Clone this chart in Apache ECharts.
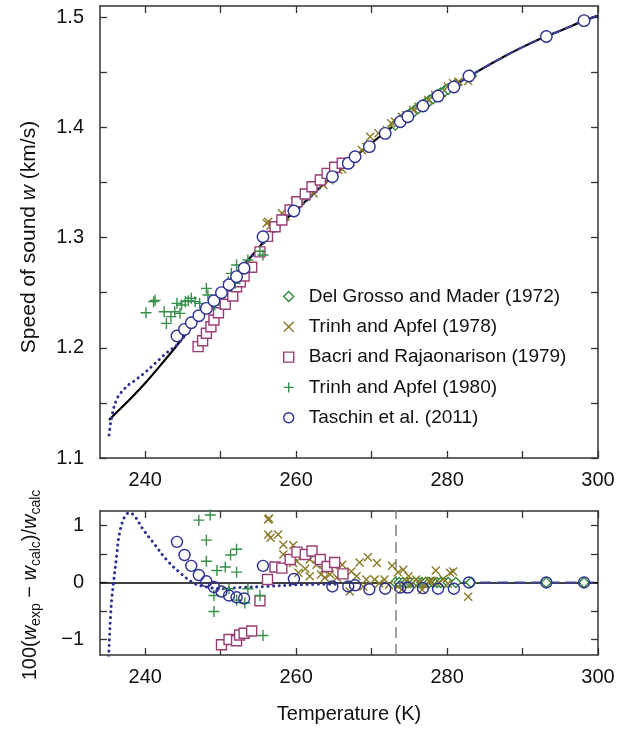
<!DOCTYPE html>
<html><head><meta charset="utf-8">
<script src="https://cdn.jsdelivr.net/npm/echarts@6/dist/echarts.min.js"></script>
<style>html,body{margin:0;padding:0;background:#fff}#c{width:639px;height:730px}</style>
</head><body><div id="c"></div>
<script>
const FONT = '"Liberation Sans", Arial, Helvetica, sans-serif';

// ---------- calculated speed of sound (solid black) ----------
const curveT = [235.2, 236, 238, 240, 242, 244, 246, 248, 250, 252, 254, 256, 258, 260, 262, 264, 266, 268, 270, 272, 273.15, 276, 278, 280, 282, 284, 286, 288, 290, 292, 294, 296, 298, 300];
const curveW = [1.1345, 1.1400, 1.1535, 1.1680, 1.1840, 1.2005, 1.2183, 1.2347, 1.2512, 1.2670, 1.2826, 1.2985, 1.3128, 1.3250, 1.3380, 1.3505, 1.3628, 1.3745, 1.3858, 1.3966, 1.4024, 1.4163, 1.4256, 1.4336, 1.4423, 1.4505, 1.4583, 1.4658, 1.4727, 1.4791, 1.4848, 1.4905, 1.4963, 1.5013];

// ---------- dotted model (low T) ----------
const dotT = [235.2, 235.4, 235.7, 236.0, 236.5, 237.1, 237.7, 238.4, 239.5, 240.6, 241.8, 243.0, 244.2, 246.4, 248.0, 250.0, 252.5, 256.0, 260.0, 265.0];
const dotW = [1.1209, 1.1315, 1.1420, 1.1496, 1.1570, 1.1617, 1.1660, 1.1692, 1.1750, 1.1814, 1.1890, 1.1964, 1.2025, 1.2210, 1.2337, 1.2498, 1.2697, 1.2976, 1.3245, 1.3570];
const dotResT = [235.15, 235.25, 235.4, 235.55, 235.8, 236.2, 236.6, 237.3, 237.9, 238.6, 239.7, 241.1, 242.8, 244.6, 246.4, 248.1, 249.9, 252.5, 256.1, 260.5, 265.3];
const dotResR = [-1.30, -1.00, -0.60, -0.30, 0.00, 0.46, 0.87, 1.16, 1.22, 1.16, 0.93, 0.69, 0.40, 0.17, -0.01, -0.08, -0.11, -0.09, -0.07, -0.04, -0.03];

// ---------- dashed model (T > 273.15) residual ----------
const dashResT = [273.15, 300];
const dashResR = [0, 0];

// ---------- Del Grosso and Mader (1972) ----------
const dgT = [273.15, 273.65, 274.15, 274.65, 275.15, 275.65, 276.15, 276.65, 277.15, 277.65, 278.15, 278.65, 279.15, 279.65, 280.15, 281.15, 283.15, 293.15, 298.15];
const dgW = [1.4024, 1.4050, 1.4075, 1.4100, 1.4124, 1.4148, 1.4172, 1.4195, 1.4218, 1.4240, 1.4263, 1.4285, 1.4306, 1.4327, 1.4348, 1.4389, 1.4467, 1.4823, 1.4967];
const dgR = [0, 0, 0, 0, 0, 0, 0, 0, 0, 0, 0, 0, 0, 0, 0, 0, 0, 0, 0];

// ---------- Trinh and Apfel (1978) ----------
const t78T = [256.1, 256.3, 256.6, 258.1, 258.6, 259.8, 260.5, 261.3, 262.3, 263.6, 264.4, 265.6, 266.1, 267.2, 268.7, 269.3, 269.8, 270.9, 272.0, 272.6, 273.1, 274.0, 274.6, 275.5, 276.2, 277.0, 277.5, 278.4, 279.3, 280.1, 280.8, 281.5, 282.8];
const t78W = [1.3129, 1.3144, 1.3110, 1.3220, 1.3190, 1.3325, 1.3340, 1.3370, 1.3401, 1.3476, 1.3520, 1.3612, 1.3619, 1.3680, 1.3794, 1.3824, 1.3914, 1.3945, 1.3975, 1.4036, 1.4050, 1.4096, 1.4110, 1.4156, 1.4187, 1.4205, 1.4247, 1.4293, 1.4312, 1.4370, 1.4400, 1.4413, 1.4420];
const t78ResT = [256.3, 256.4, 256.3, 256.6, 257.6, 258.3, 259.6, 258.3, 259.6, 260.1, 260.3, 261.2, 261.8, 261.8, 262.7, 263.3, 263.6, 263.8, 264.5, 264.9, 265.4, 266.1, 266.1, 267.3, 267.1, 268.0, 268.4, 268.9, 269.5, 269.3, 270.4, 270.7, 271.0, 271.7, 272.3, 272.7, 273.5, 274.2, 273.5, 274.0, 274.6, 274.9, 275.3, 275.9, 276.3, 276.7, 277.1, 277.6, 277.9, 278.5, 278.9, 279.5, 280.1, 280.4, 280.8, 282.8];
const t78ResR = [1.10, 1.12, 0.84, 0.78, 0.84, 0.66, 0.65, 0.49, 0.34, 0.37, 0.17, 0.24, 0.40, 0.11, 0.31, 0.14, 0.22, 0.08, 0.14, 0.31, 0.08, 0.31, 0.14, 0.19, -0.16, 0.11, 0.35, -0.07, 0.44, 0.05, 0.05, 0.34, -0.02, 0.05, -0.04, 0.29, 0.18, 0.22, -0.07, -0.13, 0.02, 0.11, -0.03, 0.05, 0.00, -0.13, -0.05, 0.02, 0.03, 0.21, 0.00, 0.06, -0.02, 0.17, 0.19, -0.25];

// ---------- Bacri and Rajaonarison (1979) ----------
const brT = [247.0, 247.6, 248.1, 248.7, 249.1, 249.7, 250.6, 251.6, 252.1, 252.6, 253.1, 254.1, 255.2, 256.2, 257.2, 258.1, 259.2, 260.1, 261.2, 262.1, 263.2, 264.1, 265.1, 266.1];
const brW = [1.2010, 1.2064, 1.2131, 1.2191, 1.2252, 1.2318, 1.2394, 1.2470, 1.2554, 1.2599, 1.2651, 1.2730, 1.2870, 1.3010, 1.3098, 1.3159, 1.3249, 1.3325, 1.3395, 1.3461, 1.3522, 1.3582, 1.3637, 1.3673];
const brResT = [250.1, 251.1, 252.1, 252.5, 253.1, 254.1, 255.2, 256.2, 257.2, 258.1, 259.2, 260.1, 261.2, 262.1, 263.2, 264.1, 265.1, 266.2];
const brResR = [-1.09, -1.00, -1.02, -0.92, -0.89, -0.85, -0.32, 0.05, 0.27, 0.25, 0.40, 0.53, 0.49, 0.55, 0.40, 0.28, 0.35, 0.15];

// ---------- Trinh and Apfel (1980) ----------
const t80T = [240.1, 241.1, 241.3, 242.5, 242.8, 243.4, 243.9, 244.2, 244.6, 244.8, 245.3, 245.7, 246.1, 246.6, 247.2, 248.1, 248.3, 249.2, 249.4, 250.8, 251.0, 251.4, 251.9, 252.1, 253.6, 255.2, 255.6];
const t80W = [1.2318, 1.2418, 1.2430, 1.2327, 1.2221, 1.2282, 1.2327, 1.2403, 1.2312, 1.2388, 1.2418, 1.2427, 1.2449, 1.2418, 1.2403, 1.2539, 1.2478, 1.2388, 1.2463, 1.2524, 1.2599, 1.2675, 1.2585, 1.2750, 1.2796, 1.2875, 1.2841];
const t80ResT = [247.1, 248.6, 248.1, 248.1, 249.5, 250.6, 251.3, 252.1, 252.1, 249.1, 249.1, 251.1, 252.1, 253.2, 253.6, 255.2, 255.6];
const t80ResR = [1.09, 1.18, 0.74, 0.37, 0.21, 0.27, 0.48, 0.58, 0.18, -0.23, -0.51, -0.11, -0.31, -0.36, -0.11, -0.23, -0.93];

// ---------- Taschin et al. (2011) ----------
const taT = [244.2, 245.2, 246.1, 247.1, 248.1, 249.1, 250.1, 251.1, 252.1, 253.1, 255.6, 259.7, 264.8, 266.9, 267.8, 269.7, 271.8, 273.8, 274.8, 276.8, 278.8, 280.9, 282.9, 293.15, 298.15];
const taW = [1.2107, 1.2167, 1.2227, 1.2291, 1.2357, 1.2427, 1.2500, 1.2572, 1.2645, 1.2721, 1.3007, 1.3240, 1.3552, 1.3673, 1.3733, 1.3824, 1.3945, 1.4050, 1.4096, 1.4193, 1.4283, 1.4365, 1.4465, 1.4823, 1.4967];
const taR = [0.71, 0.48, 0.29, 0.13, 0.02, -0.08, -0.16, -0.23, -0.26, -0.28, 0.29, 0.06, -0.07, -0.07, -0.05, -0.12, -0.11, -0.09, -0.09, -0.10, -0.11, -0.11, 0.00, 0.00, 0.00];

// ---------- axes ----------
const xTicks = [240, 250, 260, 270, 280, 290, 300];
const xLabels = [240, 260, 280, 300];
const yTopTicks = [1.1, 1.15, 1.2, 1.25, 1.3, 1.35, 1.4, 1.45, 1.5];
const yTopLabels = [1.1, 1.2, 1.3, 1.4, 1.5];
const yBotTicks = [-1, -0.5, 0, 0.5, 1];
const yBotLabels = [-1, 0, 1];

const names = ['Del Grosso and Mader (1972)', 'Trinh and Apfel (1978)', 'Bacri and Rajaonarison (1979)', 'Trinh and Apfel (1980)', 'Taschin et al. (2011)'];

const zip = (a, b) => a.map((v, i) => [v, b[i]]);

const C_DG = '#2f8a3c', C_T78 = '#8b7a27', C_BR = '#993d75', C_T80 = '#35904a', C_TA = '#2c3092';
const XSYM = 'path://M0,0L10,10M10,0L0,10';
const PSYM = 'path://M5,0L5,10M0,5L10,5';

const FRAME = {show: true, lineStyle: {color: '#333', width: 1.5}};
function xAxis(grid, pos, labels) {
  return {type: 'value', gridIndex: grid, position: pos, min: 234, max: 300,
    axisLine: {...FRAME, onZero: false}, splitLine: {show: false},
    axisTick: {show: true, inside: true, length: 7, customValues: xTicks, lineStyle: {color: '#333', width: 1.3}},
    axisLabel: {show: labels, customValues: xLabels, margin: 12, fontSize: 20, fontFamily: FONT, color: '#111'}};
}
function yAxis(grid, pos, min, max, ticks, labs, labels, fmt) {
  return {type: 'value', gridIndex: grid, position: pos, min: min, max: max,
    axisLine: {...FRAME, onZero: false}, splitLine: {show: false},
    axisTick: {show: true, inside: true, length: 7, customValues: ticks, lineStyle: {color: '#333', width: 1.3}},
    axisLabel: {show: labels, customValues: labs, margin: 16, fontSize: 20, fontFamily: FONT, color: '#111', formatter: fmt}};
}

function sc(name, top, data, symbol, size, color, fill, bw) {
  return {type: 'scatter', name: name, xAxisIndex: top ? 0 : 2, yAxisIndex: top ? 0 : 2,
    data: data, symbol: symbol, symbolSize: size, z: 5, symbolKeepAspect: true,
    itemStyle: {color: fill, borderColor: color, borderWidth: bw, opacity: 1}};
}

const legendData = [
  {name: names[0], icon: 'diamond'},
  {name: names[1], icon: XSYM},
  {name: names[2], icon: 'rect'},
  {name: names[3], icon: PSYM},
  {name: names[4], icon: 'circle'}
];

const chart = echarts.init(document.getElementById('c'), null, {renderer: 'canvas'});
chart.setOption({
  animation: false,
  backgroundColor: '#fff',
  grid: [
    {left: 100, top: 6, width: 498, height: 452},
    {left: 100, top: 511, width: 498, height: 144}
  ],
  xAxis: [xAxis(0, 'bottom', true), xAxis(0, 'top', false), xAxis(1, 'bottom', true), xAxis(1, 'top', false)],
  yAxis: [
    yAxis(0, 'left', 1.1, 1.51, yTopTicks, yTopLabels, true, v => v.toFixed(1)),
    yAxis(0, 'right', 1.1, 1.51, yTopTicks, yTopLabels, false),
    yAxis(1, 'left', -1.27, 1.25, yBotTicks, yBotLabels, true, v => (v < 0 ? '\u2212' + Math.abs(v) : String(v))),
    yAxis(1, 'right', -1.27, 1.25, yBotTicks, yBotLabels, false)
  ],
  legend: {data: legendData, orient: 'vertical', left: 283, top: 287, padding: 0, itemGap: 11.3,
    itemWidth: 10, itemHeight: 10, selectedMode: false, symbolKeepAspect: true,
    textStyle: {fontSize: 19, fontFamily: FONT, color: '#111', padding: [0, 0, 0, 10]}, itemStyle: {borderWidth: 1.4}},
  graphic: [
    {type: 'text', x: 29, y: 237, rotation: Math.PI / 2, silent: true,
      style: {text: '{a|Speed of sound }{i|w}{a| (km/s)}', align: 'center', verticalAlign: 'middle',
        rich: {a: {fontSize: 21, fontFamily: FONT, fill: '#111'}, i: {fontSize: 21, fontFamily: FONT, fontStyle: 'italic', fill: '#111'}}}},
    {type: 'text', x: 30, y: 585, rotation: Math.PI / 2, silent: true,
      style: {text: '{a|100(}{i|w}{s|exp}{a| \u2212 }{i|w}{s|calc}{a|)/}{i|w}{s|calc}', align: 'center', verticalAlign: 'middle',
        rich: {a: {fontSize: 20, fontFamily: FONT, fill: '#111', lineHeight: 27, verticalAlign: 'middle'},
               i: {fontSize: 20, fontFamily: FONT, fontStyle: 'italic', fill: '#111', lineHeight: 27, verticalAlign: 'middle'},
               s: {fontSize: 14, fontFamily: FONT, fill: '#111', lineHeight: 27, verticalAlign: 'bottom'}}}},
    {type: 'text', x: 349, y: 714, silent: true,
      style: {text: 'Temperature (K)', align: 'center', verticalAlign: 'middle', fontSize: 20, fontFamily: FONT, fill: '#111'}}
  ],
  series: [
    // top panel lines
    {type: 'line', xAxisIndex: 0, yAxisIndex: 0, data: zip(curveT, curveW), smooth: 0.3, symbol: 'none', z: 2,
      lineStyle: {color: '#000', width: 2.2}},
    {type: 'line', xAxisIndex: 0, yAxisIndex: 0, data: zip(curveT, curveW).filter(p => p[0] >= 273.15), smooth: 0.3, symbol: 'none', z: 2,
      lineStyle: {color: '#3a3f94', width: 2, type: [9, 4]}},
    {type: 'line', xAxisIndex: 0, yAxisIndex: 0, data: zip(dotT, dotW), smooth: 0.3, symbol: 'none', z: 2,
      lineStyle: {color: '#2c3092', width: 3, type: [0.1, 5.5], cap: 'round'}},
    // bottom panel lines
    {type: 'line', xAxisIndex: 2, yAxisIndex: 2, data: zip(dashResT, dashResR), symbol: 'none', z: 3,
      lineStyle: {color: '#3f4596', width: 2, type: [11, 6]},
      markLine: {silent: true, symbol: 'none', label: {show: false}, z: 1,
        data: [
          {yAxis: 0, lineStyle: {color: '#000', width: 1.5, type: 'solid'}},
          {xAxis: 273.15, lineStyle: {color: '#8a8a8a', width: 1.6, type: [11, 6]}}
        ]}},
    {type: 'line', xAxisIndex: 2, yAxisIndex: 2, data: zip(dotResT, dotResR), smooth: 0.35, symbol: 'none', z: 3,
      lineStyle: {color: '#2c3092', width: 3, type: [0.1, 5.5], cap: 'round'}},
    // top scatters
    sc(names[0], true, zip(dgT, dgW), 'diamond', 11, C_DG, '#fff', 1.4),
    sc(names[1], true, zip(t78T, t78W), XSYM, 8, C_T78, 'rgba(0,0,0,0)', 1.4),
    sc(names[2], true, zip(brT, brW), 'rect', 10, C_BR, '#fff', 1.4),
    sc(names[3], true, zip(t80T, t80W), PSYM, 11, C_T80, 'rgba(0,0,0,0)', 1.4),
    sc(names[4], true, zip(taT, taW), 'circle', 11.5, C_TA, '#fff', 1.4),
    // bottom scatters
    sc(names[0], false, zip(dgT, dgR), 'diamond', 10, C_DG, '#fff', 1.4),
    sc(names[1], false, zip(t78ResT, t78ResR), XSYM, 8, C_T78, 'rgba(0,0,0,0)', 1.4),
    sc(names[2], false, zip(brResT, brResR), 'rect', 10, C_BR, '#fff', 1.4),
    sc(names[3], false, zip(t80ResT, t80ResR), PSYM, 11, C_T80, 'rgba(0,0,0,0)', 1.4),
    sc(names[4], false, zip(taT, taR), 'circle', 11, C_TA, 'rgba(0,0,0,0)', 1.4)
  ]
});
</script></body></html>
